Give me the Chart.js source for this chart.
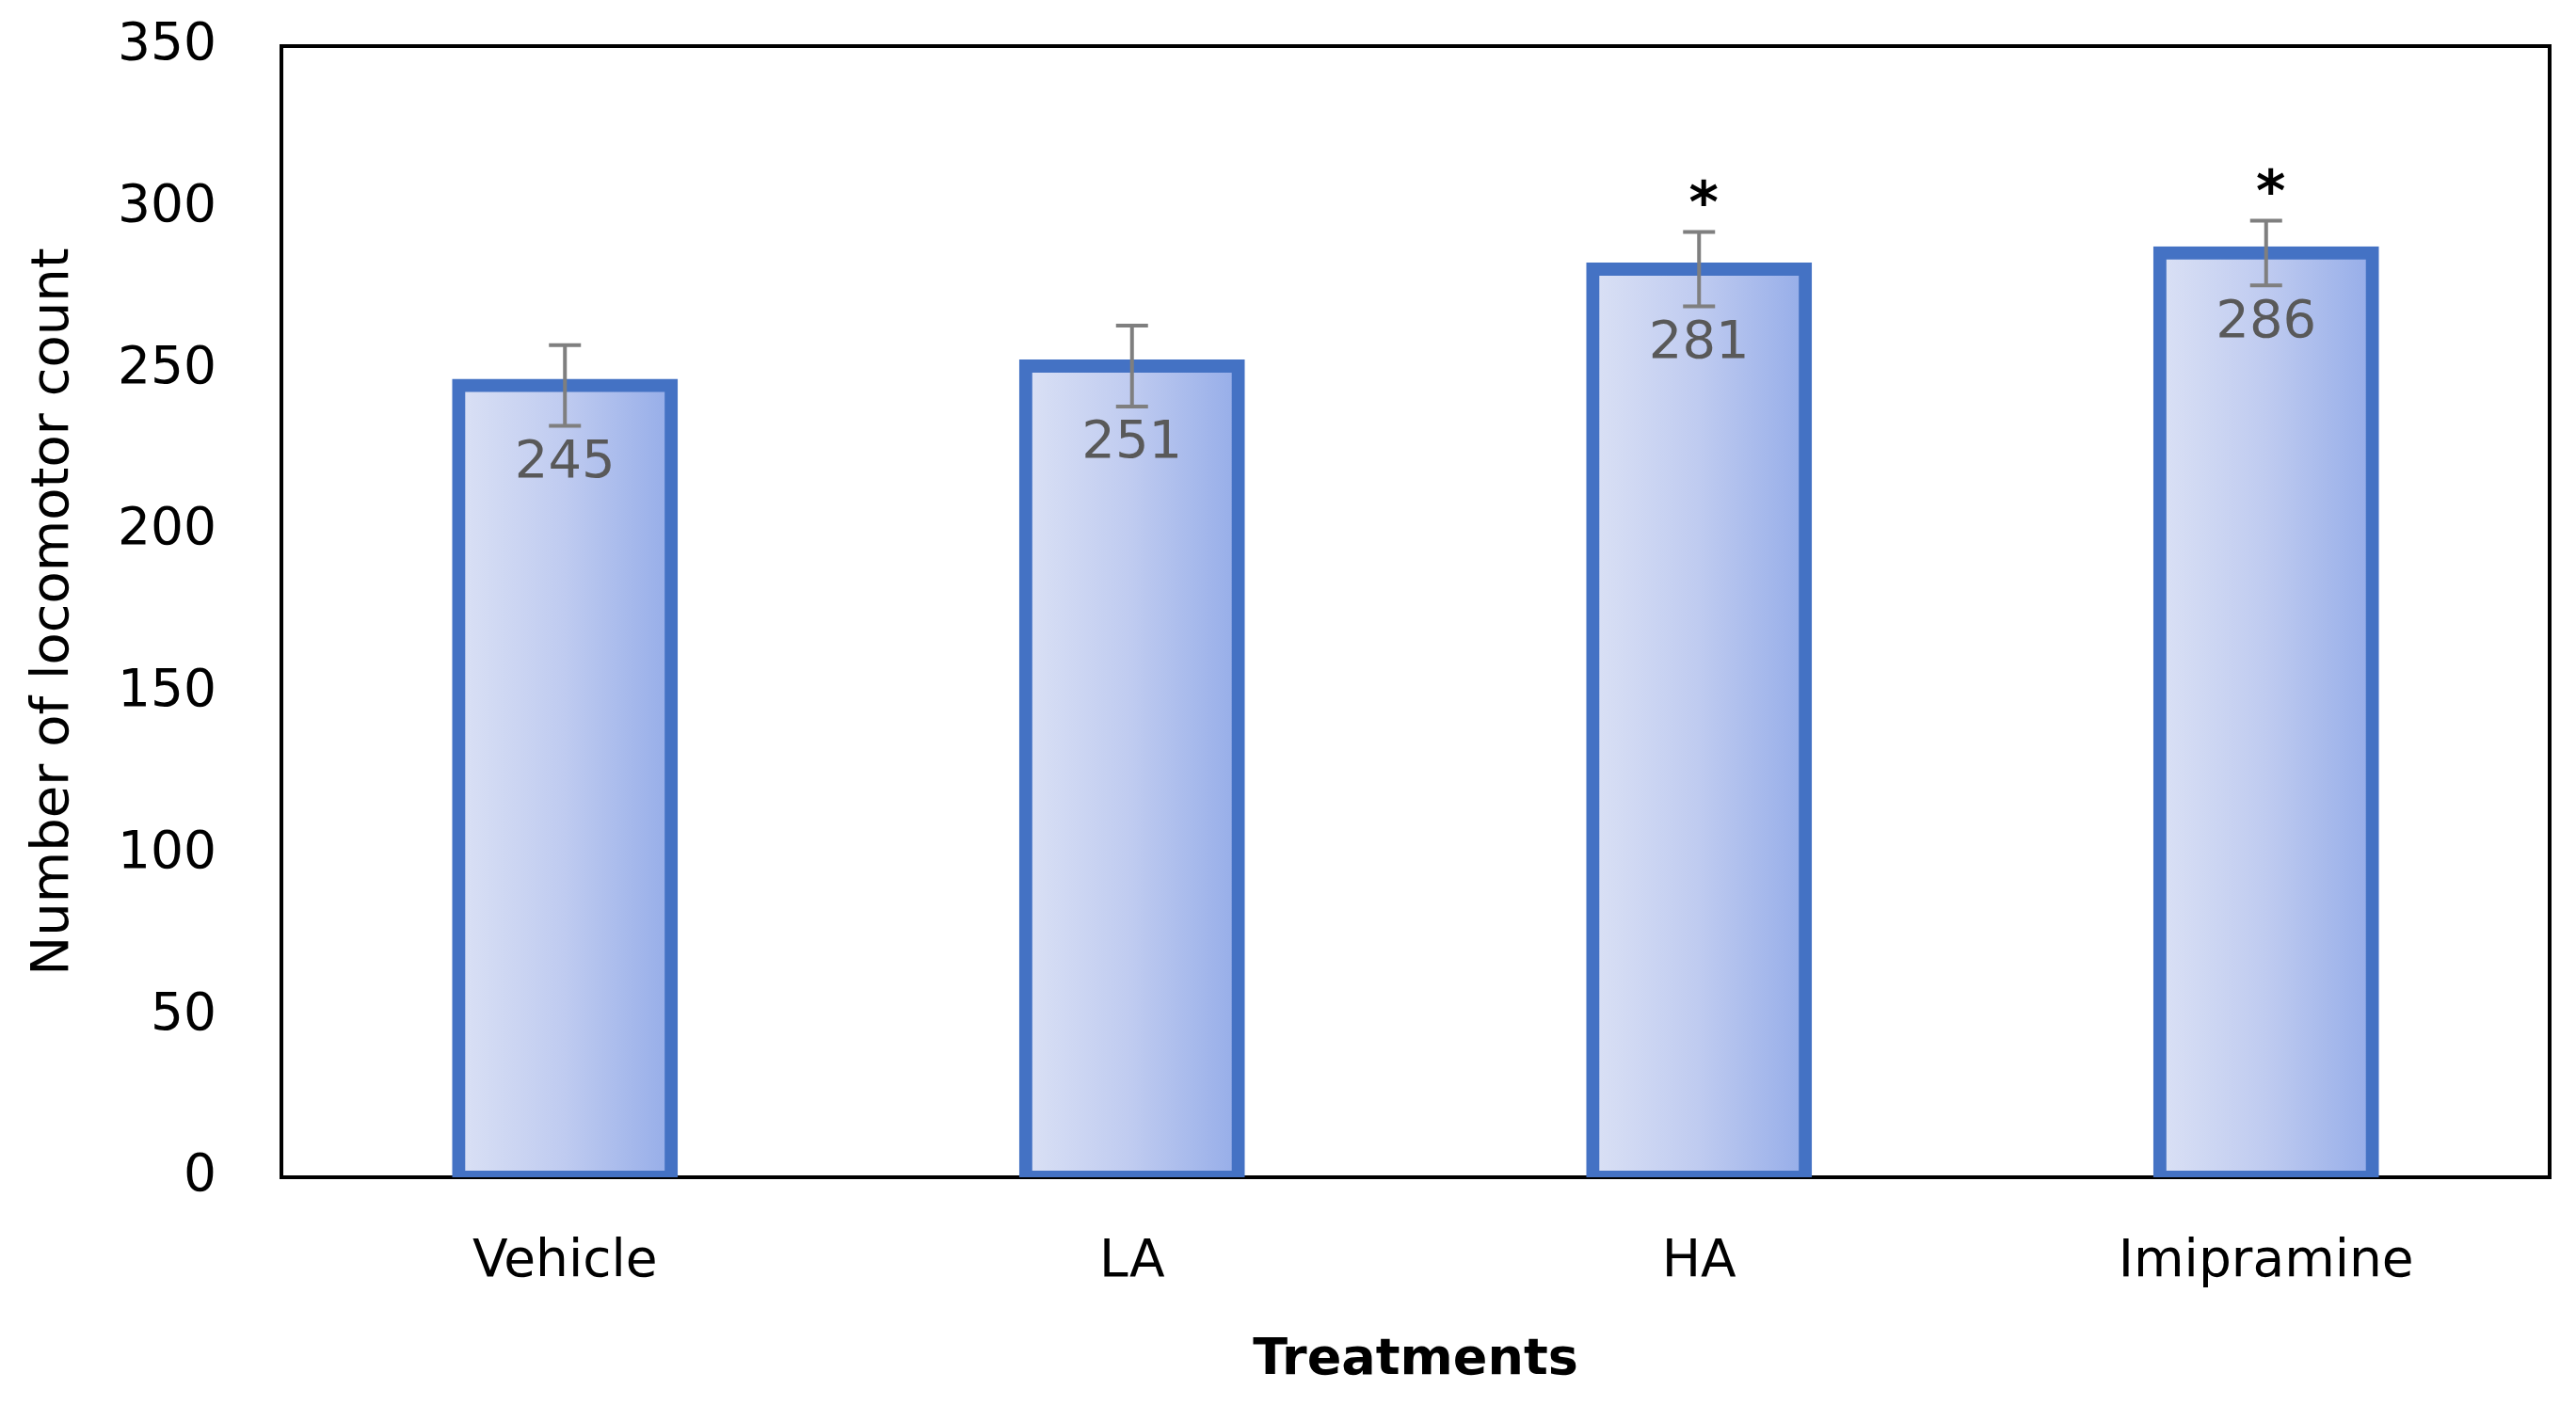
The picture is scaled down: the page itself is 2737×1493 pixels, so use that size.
<!DOCTYPE html>
<html>
<head>
<meta charset="utf-8">
<script src="https://cdn.jsdelivr.net/npm/chart.js@4"></script>
<style>
  body { margin: 0; background: #FFFFFF; }
  canvas { display: block; }
</style>
</head>
<body>
<canvas id="chart" width="2737" height="1493"></canvas>
<script>
const treatments = ['Vehicle', 'LA', 'HA', 'Imipramine'];
const counts = [245, 251, 281, 286];
const errors = [12.5, 12.5, 11.5, 10];
const marks = ['', '', '*', '*'];
const yTicks = [0, 50, 100, 150, 200, 250, 300, 350];

Chart.defaults.font.family = 'DejaVu Sans';
Chart.defaults.color = '#000000';

// bars get a light-to-dark horizontal gradient, one per bar
function barFill(context) {
    const chart = context.chart;
    if (!chart.chartArea) return '#B4C4EE';
    const x = chart.scales.x;
    const center = x.getPixelForValue(context.dataIndex);
    const half = (x.width / treatments.length) * 0.4 / 2;
    const g = chart.ctx.createLinearGradient(center - half, 0, center + half, 0);
    g.addColorStop(0, '#DCE2F5');
    g.addColorStop(0.5, '#BFCBF0');
    g.addColorStop(1, '#93ABE8');
    return g;
}

const boxPlugin = {
    id: 'box',
    beforeDatasetsDraw(chart) {
        const {ctx, chartArea: a} = chart;
        ctx.save();
        ctx.strokeStyle = '#000000';
        ctx.lineWidth = 4;
        ctx.strokeRect(a.left, a.top, a.right - a.left, a.bottom - a.top);
        ctx.restore();
    }
};

const errorPlugin = {
    id: 'errors',
    afterDatasetsDraw(chart) {
        const ctx = chart.ctx;
        const x = chart.scales.x;
        const y = chart.scales.y;
        ctx.save();
        counts.forEach((v, i) => {
            const cx = x.getPixelForValue(i);
            const hi = y.getPixelForValue(v + errors[i]);
            const lo = y.getPixelForValue(v - errors[i]);
            ctx.strokeStyle = '#7F7F7F';
            ctx.lineWidth = 4;
            ctx.beginPath();
            ctx.moveTo(cx, hi); ctx.lineTo(cx, lo);
            ctx.moveTo(cx - 17, hi); ctx.lineTo(cx + 17, hi);
            ctx.moveTo(cx - 17, lo); ctx.lineTo(cx + 17, lo);
            ctx.stroke();

            ctx.fillStyle = '#595959';
            ctx.font = '56px "DejaVu Sans"';
            ctx.textAlign = 'center';
            ctx.textBaseline = 'middle';
            ctx.fillText(String(v), cx, lo + 40);

            if (marks[i]) {
                ctx.fillStyle = '#000000';
                ctx.font = 'bold 60px "DejaVu Sans"';
                ctx.fillText(marks[i], cx + 5, hi - 26);
            }
        });
        ctx.restore();
    }
};

new Chart(document.getElementById('chart'), {
    type: 'bar',
    data: {
        labels: treatments,
        datasets: [{
            data: counts,
            backgroundColor: barFill,
            borderColor: '#4472C4',
            borderWidth: 14,
            borderSkipped: false,
            inflateAmount: 7,
            categoryPercentage: 1,
            barPercentage: 0.375
        }]
    },
    options: {
        responsive: false,
        animation: false,
        devicePixelRatio: 1,
        layout: {
            padding: {top: 49, right: 28, left: 0, bottom: 0}
        },
        plugins: {
            legend: {display: false},
            tooltip: {enabled: false}
        },
        scales: {
            x: {
                grid: {display: false, drawTicks: false},
                border: {display: false},
                ticks: {
                    padding: 58,
                    font: {size: 55},
                    color: '#000000'
                },
                title: {
                    display: true,
                    text: 'Treatments',
                    font: {size: 54, weight: 'bold'},
                    padding: {top: 0, bottom: 15}
                },
                afterFit(scale) {
                    scale.height = 242;
                    scale.paddingLeft = 0;
                    scale.paddingRight = 0;
                }
            },
            y: {
                min: 0,
                max: 350,
                grid: {display: false, drawTicks: false},
                border: {display: false},
                afterBuildTicks(scale) {
                    scale.ticks = yTicks.map(v => ({value: v}));
                },
                ticks: {
                    padding: 69,
                    font: {size: 55},
                    color: '#000000'
                },
                title: {
                    display: true,
                    text: 'Number of locomotor count',
                    font: {size: 56},
                    padding: {top: 24, bottom: 0}
                },
                afterFit(scale) {
                    scale.width = 299;
                    scale.paddingTop = 0;
                    scale.paddingBottom = 0;
                }
            }
        }
    },
    plugins: [boxPlugin, errorPlugin]
});
</script>
</body>
</html>
